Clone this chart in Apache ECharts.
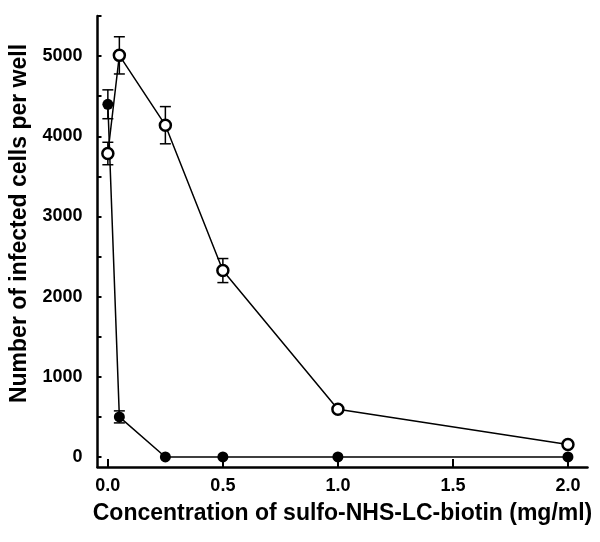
<!DOCTYPE html>
<html>
<head>
<meta charset="utf-8">
<script src="https://cdn.jsdelivr.net/npm/echarts@6/dist/echarts.min.js"></script>
<style>
  html, body { margin: 0; padding: 0; background: #fff; }
  #chart { width: 600px; height: 542px; }
</style>
</head>
<body>
<div id="chart"></div>
<script>
// concentration (mg/ml)
var conc = [0, 0.05, 0.25, 0.5, 1.0, 2.0];
// open circles
var openVals = [3785, 5009, 4138, 2325, 595, 156];
var openErr = [140, 232, 232, 150, 0, 0];
// filled circles
var filledVals = [4399, 500, 0, 0, 0, 0];
var filledErr = [180, 75, 0, 0, 0, 0];

var xTicks = [0, 0.5, 1.0, 1.5, 2.0];
var yLabels = [0, 1000, 2000, 3000, 4000, 5000];
var yTicks = [0, 500, 1000, 1500, 2000, 2500, 3000, 3500, 4000, 4500, 5000, 5500];

var font = '"Liberation Sans", Arial, sans-serif';

function pairs(xs, ys) {
  return xs.map(function (x, i) { return [x, ys[i]]; });
}
function errData(xs, ys, es) {
  var out = [];
  for (var i = 0; i < xs.length; i++) {
    if (es[i] > 0) out.push([xs[i], ys[i] - es[i], ys[i] + es[i]]);
  }
  return out;
}

function renderErr(params, api) {
  var x = api.value(0);
  var lo = api.coord([x, api.value(1)]);
  var hi = api.coord([x, api.value(2)]);
  var w = 5.5;
  var st = { stroke: '#000', lineWidth: 1.5 };
  return {
    type: 'group',
    children: [
      { type: 'line', shape: { x1: lo[0], y1: lo[1], x2: hi[0], y2: hi[1] }, style: st },
      { type: 'line', shape: { x1: lo[0] - w, y1: lo[1], x2: lo[0] + w, y2: lo[1] }, style: st },
      { type: 'line', shape: { x1: hi[0] - w, y1: hi[1], x2: hi[0] + w, y2: hi[1] }, style: st }
    ]
  };
}

var chart = echarts.init(document.getElementById('chart'));
chart.setOption({
  backgroundColor: '#fff',
  animation: false,
  grid: { left: 97.5, right: 12.5, top: 16, bottom: 75 },
  xAxis: {
    type: 'value',
    min: -0.045,
    max: 2.085,
    name: 'Concentration of sulfo-NHS-LC-biotin (mg/ml)',
    nameLocation: 'middle',
    nameGap: 35,
    nameTextStyle: { fontFamily: font, fontWeight: 'bold', fontSize: 23, color: '#000' },
    axisLine: { onZero: false, lineStyle: { color: '#000', width: 2.5 } },
    axisTick: { inside: true, length: 8, customValues: xTicks, lineStyle: { color: '#000', width: 2 } },
    axisLabel: {
      customValues: xTicks,
      margin: 10,
      fontFamily: font, fontWeight: 'bold', fontSize: 18, color: '#000',
      formatter: function (v) { return v.toFixed(1); }
    },
    splitLine: { show: false }
  },
  yAxis: {
    type: 'value',
    min: -125,
    max: 5500,
    name: 'Number of infected cells per well',
    nameLocation: 'middle',
    nameGap: 62,
    nameTextStyle: { fontFamily: font, fontWeight: 'bold', fontSize: 23, color: '#000', padding: [0, 0, 0, 36] },
    axisLine: { onZero: false, lineStyle: { color: '#000', width: 2.5 } },
    axisTick: { inside: true, length: 4, customValues: yTicks, lineStyle: { color: '#000', width: 2 } },
    axisLabel: {
      customValues: yLabels,
      margin: 15,
      fontFamily: font, fontWeight: 'bold', fontSize: 18, color: '#000',
      formatter: function (v) { return String(v); }
    },
    splitLine: { show: false }
  },
  series: [
    {
      type: 'custom',
      renderItem: renderErr,
      data: errData(conc, filledVals, filledErr),
      z: 1
    },
    {
      type: 'custom',
      renderItem: renderErr,
      data: errData(conc, openVals, openErr),
      z: 1
    },
    {
      name: 'filled',
      type: 'line',
      data: pairs(conc, filledVals),
      symbol: 'circle',
      symbolSize: 11,
      lineStyle: { color: '#000', width: 1.5 },
      itemStyle: { color: '#000', borderColor: '#000', borderWidth: 0 },
      z: 2
    },
    {
      name: 'open',
      type: 'line',
      data: pairs(conc, openVals),
      symbol: 'circle',
      symbolSize: 11,
      showAllSymbol: true,
      lineStyle: { color: '#000', width: 1.5 },
      itemStyle: { color: '#fff', borderColor: '#000', borderWidth: 2.5 },
      z: 3
    }
  ]
});
</script>
</body>
</html>
